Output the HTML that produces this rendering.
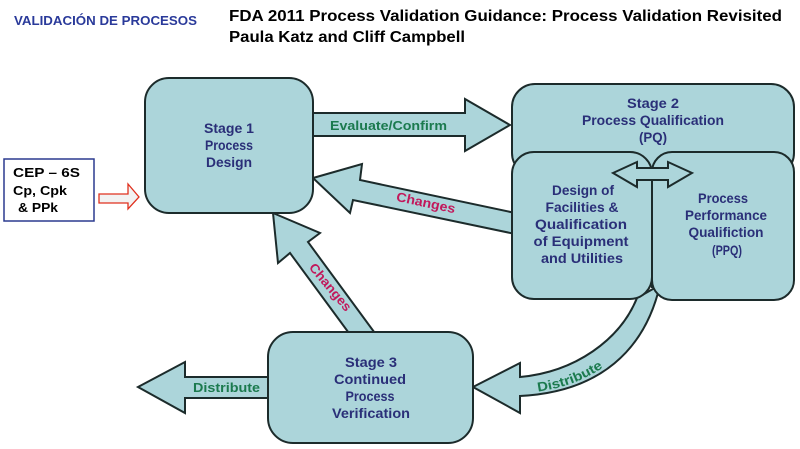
<!DOCTYPE html>
<html><head><meta charset="utf-8"><style>
html,body{margin:0;padding:0;background:#fff;}
svg{display:block;}
text{font-family:"Liberation Sans",sans-serif;font-weight:bold;}
.st{fill:#2a2f78;font-size:14px;text-anchor:middle;}
.gr{fill:#1b7a4e;font-size:13px;}
.rd{fill:#c2185b;font-size:13px;}
</style></head><body>
<svg width="800" height="449" viewBox="0 0 800 449" xmlns="http://www.w3.org/2000/svg">
<g fill="#acd5da" stroke="#1c2b2b" stroke-width="2" stroke-linejoin="miter">
  <!-- curved distribute arrow -->
  <path d="M473 387 L520 363 L520 377 C575 372 620 340 637 298 L660 285 C645 350 600 392 520 396 L520 413 Z"/>
  <!-- evaluate arrow -->
  <polygon points="310,113 465,113 465,99 510,125 465,151 465,136 310,136"/>
  <!-- changes upper -->
  <polygon points="313,178 362,164 360,180 520,214 520,235 353,200 350,213"/>
  <!-- changes vertical -->
  <polygon points="273,213 320,233 308,242 380,340 354,340 290,253 278,263"/>
  <!-- distribute left -->
  <polygon points="275,377 185,377 185,362 138,387 185,413 185,398 275,398"/>
  <!-- stage 1 -->
  <rect x="145" y="78" width="168" height="135" rx="24"/>
  <!-- stage 3 -->
  <rect x="268" y="332" width="205" height="111" rx="25"/>
  <!-- stage 2 -->
  <rect x="512" y="84" width="282" height="92" rx="23"/>
  <rect x="512" y="152" width="140" height="147" rx="22"/>
  <rect x="652" y="152" width="142" height="148" rx="20"/>
  <!-- double arrow -->
  <polygon points="613,173 637,162 637,168 668,168 668,162 692,173 668,187 668,180 637,180 637,187"/>
</g>
<line x1="652" y1="180" x2="652" y2="288" stroke="#1c2b2b" stroke-width="2"/>

<!-- header -->
<text x="14" y="25" font-size="13" fill="#2a3a9a" textLength="183" lengthAdjust="spacingAndGlyphs">VALIDACIÓN DE PROCESOS</text>
<text x="229" y="21" font-size="16" fill="#000" textLength="553" lengthAdjust="spacingAndGlyphs">FDA 2011 Process Validation Guidance: Process Validation Revisited</text>
<text x="229" y="42" font-size="16" fill="#000" textLength="236" lengthAdjust="spacingAndGlyphs">Paula Katz and Cliff Campbell</text>

<!-- CEP box -->
<rect x="4" y="159" width="90" height="62" fill="#fff" stroke="#2b3a8f" stroke-width="1.5"/>
<text x="13" y="177" font-size="13" fill="#000" textLength="67" lengthAdjust="spacingAndGlyphs">CEP – 6S</text>
<text x="13" y="195" font-size="13" fill="#000" textLength="54" lengthAdjust="spacingAndGlyphs">Cp, Cpk</text>
<text x="18" y="212" font-size="13" fill="#000" textLength="40" lengthAdjust="spacingAndGlyphs">&amp; PPk</text>
<polygon points="99,194 128,194 128,184 139,197 128,209 128,203 99,203" fill="#f2f2f2" stroke="#e0301e" stroke-width="1.3"/>

<!-- Stage 1 text -->
<text class="st" x="229" y="133" textLength="50" lengthAdjust="spacingAndGlyphs">Stage 1</text>
<text class="st" x="229" y="150" textLength="48" lengthAdjust="spacingAndGlyphs">Process</text>
<text class="st" x="229" y="167" textLength="46" lengthAdjust="spacingAndGlyphs">Design</text>

<!-- Stage 2 text -->
<text class="st" x="653" y="108" textLength="52" lengthAdjust="spacingAndGlyphs">Stage 2</text>
<text class="st" x="653" y="125" textLength="142" lengthAdjust="spacingAndGlyphs">Process Qualification</text>
<text class="st" x="653" y="142" textLength="28" lengthAdjust="spacingAndGlyphs">(PQ)</text>

<text class="st" x="583" y="195" textLength="62" lengthAdjust="spacingAndGlyphs">Design of</text>
<text class="st" x="582" y="212" textLength="73" lengthAdjust="spacingAndGlyphs">Facilities &amp;</text>
<text class="st" x="581" y="229" textLength="92" lengthAdjust="spacingAndGlyphs">Qualification</text>
<text class="st" x="581" y="246" textLength="95" lengthAdjust="spacingAndGlyphs">of Equipment</text>
<text class="st" x="582" y="263" textLength="82" lengthAdjust="spacingAndGlyphs">and Utilities</text>

<text class="st" x="723" y="203" textLength="50" lengthAdjust="spacingAndGlyphs">Process</text>
<text class="st" x="726" y="220" textLength="82" lengthAdjust="spacingAndGlyphs">Performance</text>
<text class="st" x="726" y="237" textLength="75" lengthAdjust="spacingAndGlyphs">Qualifiction</text>
<text class="st" x="727" y="255" textLength="30" lengthAdjust="spacingAndGlyphs">(PPQ)</text>

<!-- Stage 3 text -->
<text class="st" x="371" y="367" textLength="52" lengthAdjust="spacingAndGlyphs">Stage 3</text>
<text class="st" x="370" y="384" textLength="72" lengthAdjust="spacingAndGlyphs">Continued</text>
<text class="st" x="370" y="401" textLength="49" lengthAdjust="spacingAndGlyphs">Process</text>
<text class="st" x="371" y="418" textLength="78" lengthAdjust="spacingAndGlyphs">Verification</text>

<!-- connector labels -->
<text class="gr" x="330" y="130" textLength="117" lengthAdjust="spacingAndGlyphs">Evaluate/Confirm</text>
<text class="gr" x="193" y="392" textLength="67" lengthAdjust="spacingAndGlyphs">Distribute</text>
<text class="rd" x="0" y="0" text-anchor="middle" transform="translate(425,207) rotate(12)" textLength="60" lengthAdjust="spacingAndGlyphs">Changes</text>
<text class="rd" x="0" y="0" text-anchor="middle" transform="translate(327,290) rotate(50)" textLength="58" lengthAdjust="spacingAndGlyphs">Changes</text>
<defs><path id="dp" d="M522 393 C590 390 640 350 655 297"/></defs>
<text class="gr"><textPath href="#dp" startOffset="16" textLength="70" lengthAdjust="spacingAndGlyphs">Distribute</textPath></text>
</svg>
</body></html>
